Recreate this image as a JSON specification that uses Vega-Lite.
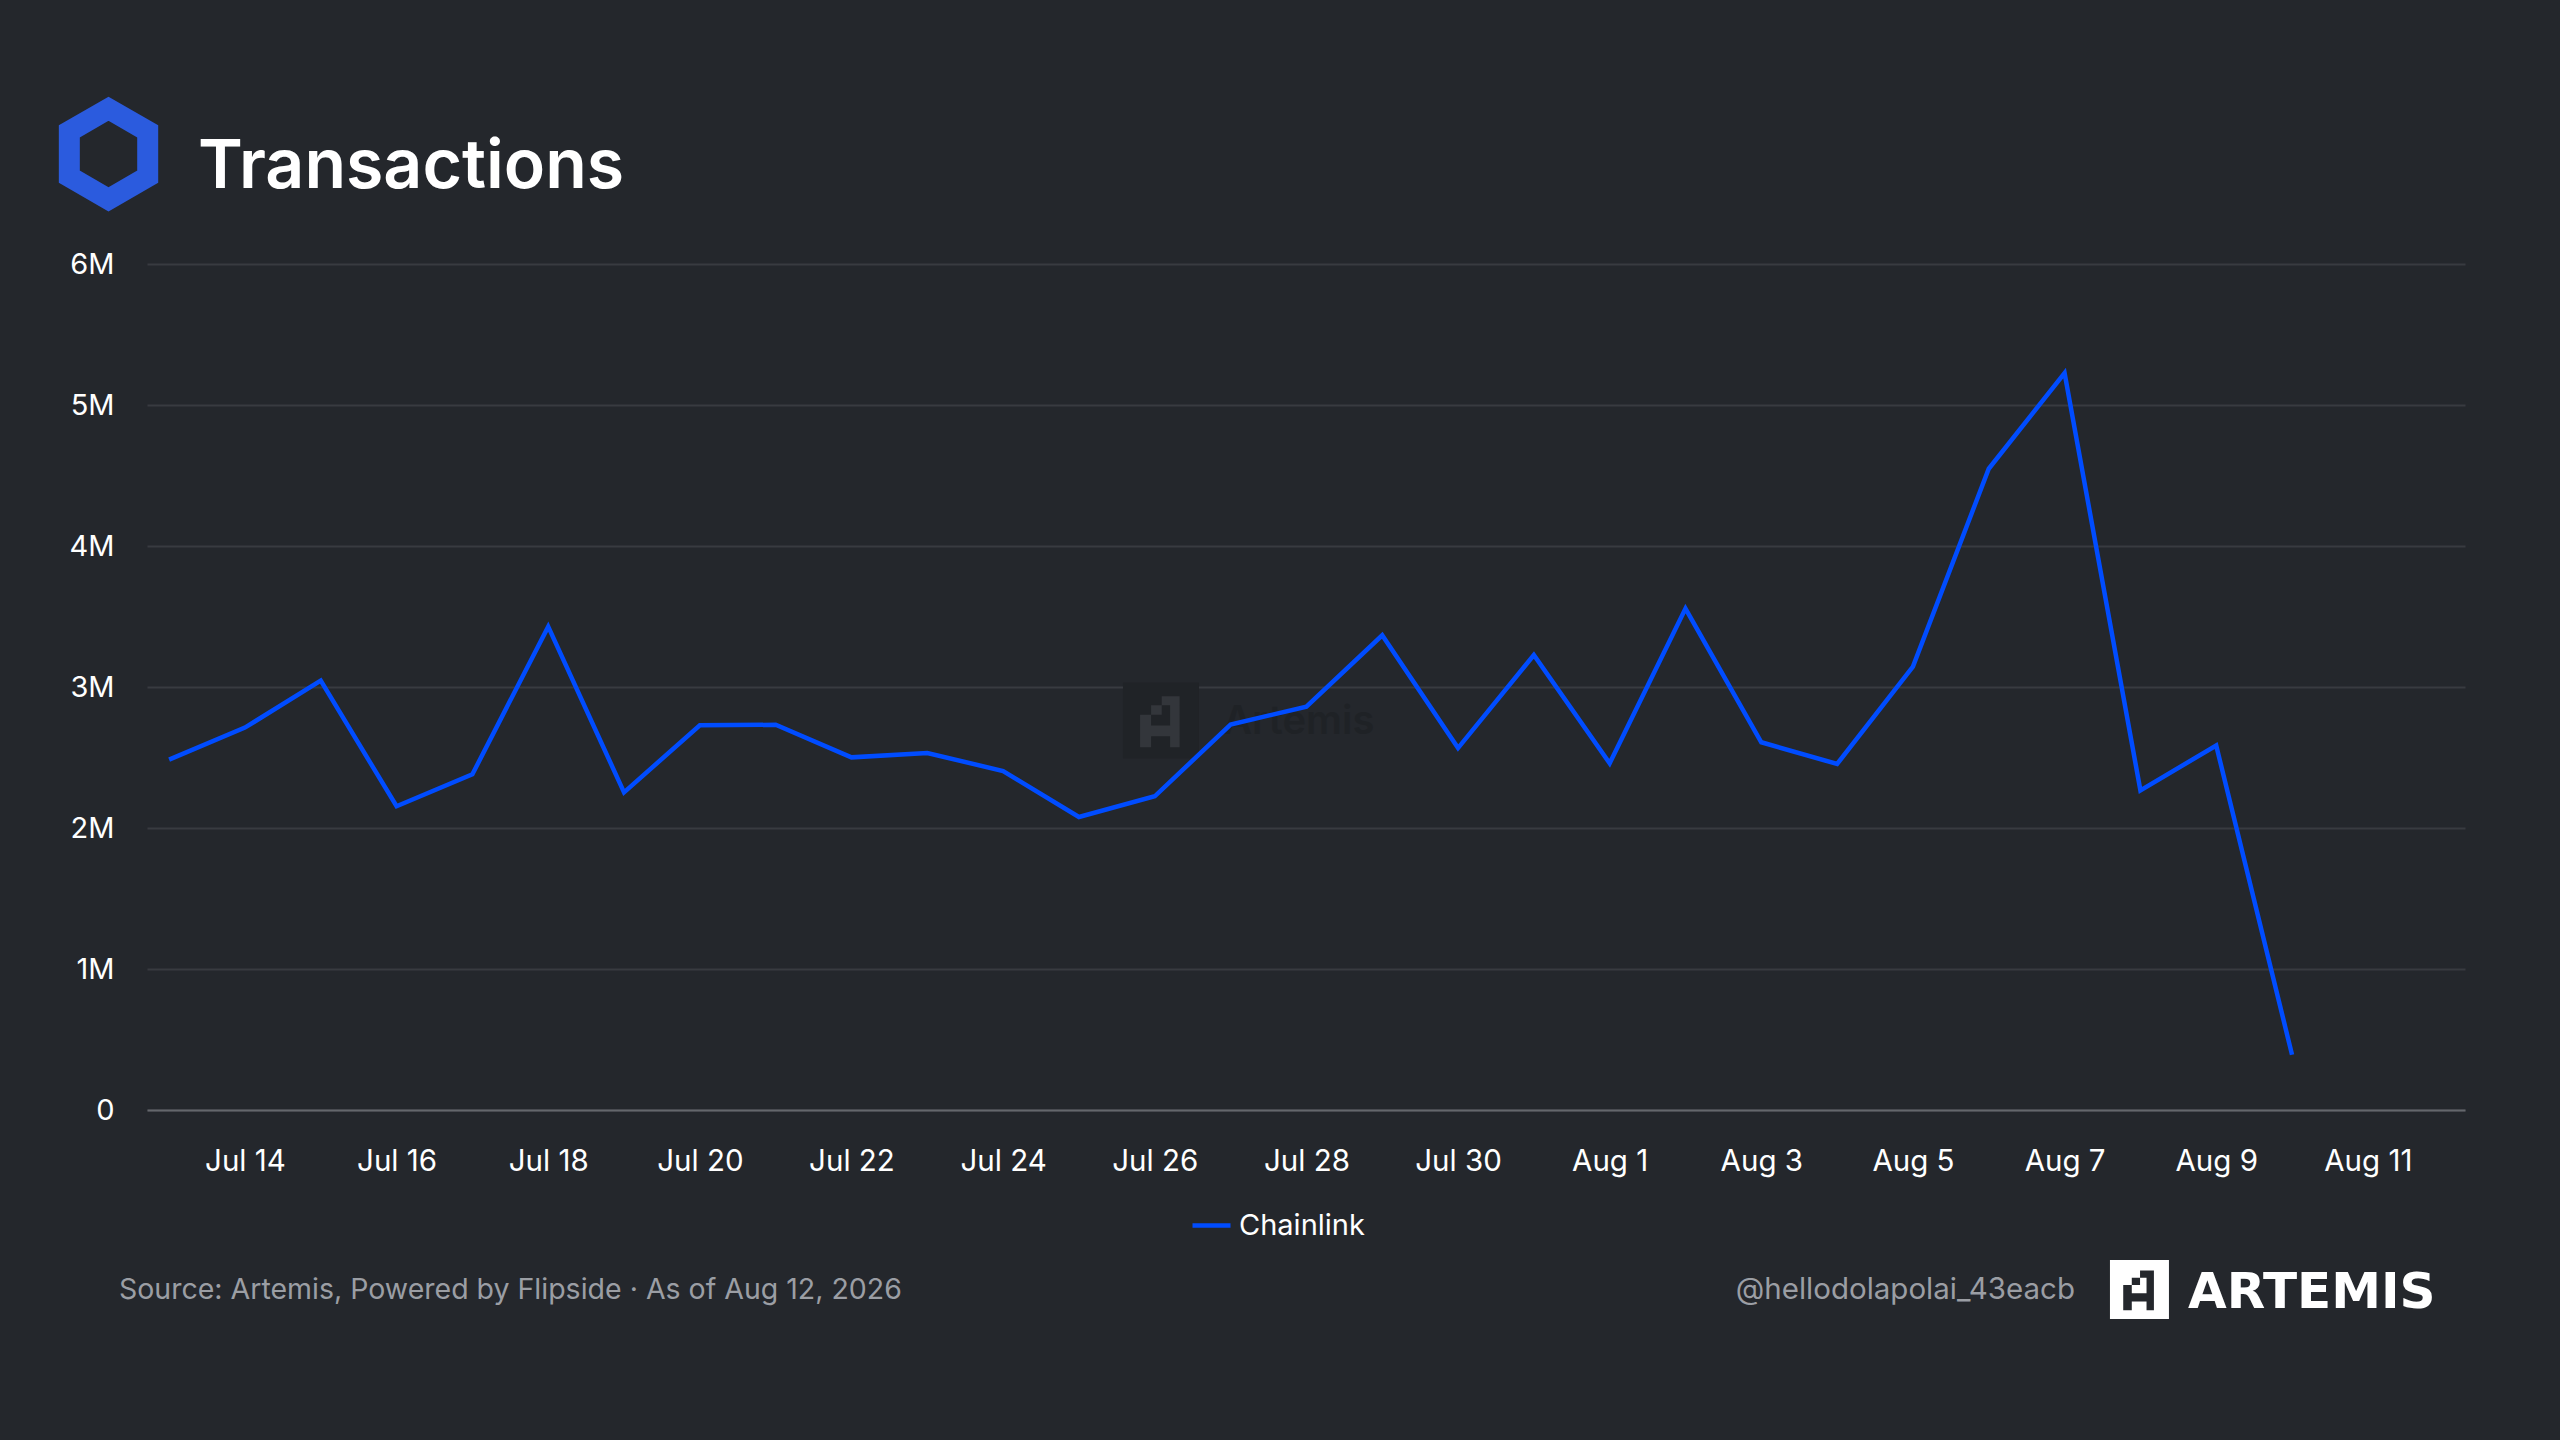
{
  "$schema": "https://vega.github.io/schema/vega-lite/v6.json",
  "autosize": "none",
  "width": 2318,
  "height": 846,
  "padding": {"left": 147, "top": 264, "right": 95, "bottom": 330},
  "background": "#24272c",
  "config": {
    "view": {"stroke": null},
    "font": "Inter"
  },
  "layer": [
    {
      "data": {"values": [{}]},
      "mark": {"type": "point", "shape": "square", "filled": true, "color": "#202327", "opacity": 1, "size": 5776},
      "encoding": {
        "x": {"datum": {"year": 2026, "month": 7, "date": 26, "hours": 1, "minutes": 58, "utc": true}, "type": "temporal"},
        "y": {"datum": 2762000, "type": "quantitative"}
      }
    },
    {
      "data": {"values": [{}]},
      "mark": {"type": "point", "shape": "M0.02,-0.64L0.49,-0.64L0.49,0.7L0.24,0.7L0.24,-0.4L0.02,-0.4ZM-0.26,-0.4L0.02,-0.4L0.02,-0.15L-0.26,-0.15ZM-0.55,-0.15L-0.26,-0.15L-0.26,0.7L-0.55,0.7ZM-0.55,0.13L0.49,0.13L0.49,0.41L-0.55,0.41Z", "filled": true, "color": "#33363b", "opacity": 1, "size": 5776},
      "encoding": {
        "x": {"datum": {"year": 2026, "month": 7, "date": 26, "hours": 1, "minutes": 58, "utc": true}, "type": "temporal"},
        "y": {"datum": 2762000, "type": "quantitative"}
      }
    },
    {
      "data": {"values": [{}]},
      "mark": {"type": "text", "align": "left", "baseline": "alphabetic", "font": "Inter", "fontSize": 40, "fontWeight": 600, "color": "#1f2226"},
      "encoding": {
        "x": {"datum": {"year": 2026, "month": 7, "date": 26, "hours": 21, "minutes": 36, "utc": true}, "type": "temporal"},
        "y": {"datum": 2667000, "type": "quantitative"},
        "text": {"value": "Artemis"}
      }
    },
    {
      "data": {
        "values": [
          {"date": "2026-07-13", "transactions": 2485000, "chain": "Chainlink"},
          {"date": "2026-07-14", "transactions": 2712000, "chain": "Chainlink"},
          {"date": "2026-07-15", "transactions": 3045000, "chain": "Chainlink"},
          {"date": "2026-07-16", "transactions": 2154000, "chain": "Chainlink"},
          {"date": "2026-07-17", "transactions": 2381000, "chain": "Chainlink"},
          {"date": "2026-07-18", "transactions": 3428000, "chain": "Chainlink"},
          {"date": "2026-07-19", "transactions": 2253000, "chain": "Chainlink"},
          {"date": "2026-07-20", "transactions": 2728000, "chain": "Chainlink"},
          {"date": "2026-07-21", "transactions": 2732000, "chain": "Chainlink"},
          {"date": "2026-07-22", "transactions": 2501000, "chain": "Chainlink"},
          {"date": "2026-07-23", "transactions": 2532000, "chain": "Chainlink"},
          {"date": "2026-07-24", "transactions": 2404000, "chain": "Chainlink"},
          {"date": "2026-07-25", "transactions": 2078000, "chain": "Chainlink"},
          {"date": "2026-07-26", "transactions": 2225000, "chain": "Chainlink"},
          {"date": "2026-07-27", "transactions": 2733000, "chain": "Chainlink"},
          {"date": "2026-07-28", "transactions": 2861000, "chain": "Chainlink"},
          {"date": "2026-07-29", "transactions": 3367000, "chain": "Chainlink"},
          {"date": "2026-07-30", "transactions": 2567000, "chain": "Chainlink"},
          {"date": "2026-07-31", "transactions": 3227000, "chain": "Chainlink"},
          {"date": "2026-08-01", "transactions": 2459000, "chain": "Chainlink"},
          {"date": "2026-08-02", "transactions": 3556000, "chain": "Chainlink"},
          {"date": "2026-08-03", "transactions": 2608000, "chain": "Chainlink"},
          {"date": "2026-08-04", "transactions": 2454000, "chain": "Chainlink"},
          {"date": "2026-08-05", "transactions": 3145000, "chain": "Chainlink"},
          {"date": "2026-08-06", "transactions": 4548000, "chain": "Chainlink"},
          {"date": "2026-08-07", "transactions": 5226000, "chain": "Chainlink"},
          {"date": "2026-08-08", "transactions": 2267000, "chain": "Chainlink"},
          {"date": "2026-08-09", "transactions": 2585000, "chain": "Chainlink"},
          {"date": "2026-08-10", "transactions": 392000, "chain": "Chainlink"}
        ]
      },
      "mark": {"type": "line", "strokeWidth": 4.5, "strokeJoin": "miter"},
      "encoding": {
        "x": {
          "field": "date",
          "type": "temporal",
          "scale": {
            "type": "utc",
            "nice": false,
            "domain": [
              {"year": 2026, "month": 7, "date": 12, "hours": 17, "utc": true},
              {"year": 2026, "month": 8, "date": 12, "hours": 6, "minutes": 45, "utc": true}
            ]
          },
          "axis": {
            "title": null,
            "format": "%b %-d",
            "values": [
              {"year": 2026, "month": 7, "date": 14, "utc": true},
              {"year": 2026, "month": 7, "date": 16, "utc": true},
              {"year": 2026, "month": 7, "date": 18, "utc": true},
              {"year": 2026, "month": 7, "date": 20, "utc": true},
              {"year": 2026, "month": 7, "date": 22, "utc": true},
              {"year": 2026, "month": 7, "date": 24, "utc": true},
              {"year": 2026, "month": 7, "date": 26, "utc": true},
              {"year": 2026, "month": 7, "date": 28, "utc": true},
              {"year": 2026, "month": 7, "date": 30, "utc": true},
              {"year": 2026, "month": 8, "date": 1, "utc": true},
              {"year": 2026, "month": 8, "date": 3, "utc": true},
              {"year": 2026, "month": 8, "date": 5, "utc": true},
              {"year": 2026, "month": 8, "date": 7, "utc": true},
              {"year": 2026, "month": 8, "date": 9, "utc": true},
              {"year": 2026, "month": 8, "date": 11, "utc": true}
            ],
            "grid": false,
            "ticks": false,
            "tickSize": 0,
            "domain": true,
            "domainColor": "#64676c",
            "domainWidth": 2,
            "labelFlush": false,
            "labelFont": "Inter",
            "labelFontSize": 29.5,
            "labelColor": "#ffffff",
            "labelPadding": 37
          }
        },
        "y": {
          "field": "transactions",
          "type": "quantitative",
          "scale": {"domain": [0, 6000000], "nice": false},
          "axis": {
            "title": null,
            "values": [0, 1000000, 2000000, 3000000, 4000000, 5000000, 6000000],
            "labelExpr": "datum.value === 0 ? '0' : format(datum.value, '~s')",
            "grid": true,
            "gridColor": "#383b40",
            "gridWidth": 2,
            "domain": false,
            "ticks": false,
            "tickSize": 0,
            "labelFont": "Inter",
            "labelFontSize": 29,
            "labelColor": "#ffffff",
            "labelPadding": 33
          }
        },
        "color": {
          "field": "chain",
          "type": "nominal",
          "scale": {"domain": ["Chainlink"], "range": ["#004cff"]},
          "legend": {
            "title": null,
            "orient": "none",
            "legendX": 1043,
            "legendY": 940,
            "direction": "horizontal",
            "padding": 0,
            "symbolType": "stroke",
            "symbolSize": 1444,
            "symbolStrokeWidth": 4.5,
            "labelFont": "Inter",
            "labelFontSize": 29,
            "labelColor": "#ffffff",
            "labelOffset": 6
          }
        }
      }
    },
    {
      "data": {"values": [{}]},
      "mark": {"type": "point", "shape": "M0,-1L0.866,-0.5L0.866,0.5L0,1L-0.866,0.5L-0.866,-0.5Z", "filled": false, "stroke": "#2b5bde", "strokeWidth": 21, "strokeJoin": "miter", "opacity": 1, "size": 8190},
      "encoding": {
        "x": {"datum": {"year": 2026, "month": 7, "date": 12, "hours": 4, "minutes": 49, "utc": true}, "type": "temporal"},
        "y": {"datum": 6780000, "type": "quantitative"}
      }
    },
    {
      "data": {"values": [{}]},
      "mark": {"type": "text", "align": "left", "baseline": "alphabetic", "font": "Inter", "fontSize": 68, "fontWeight": 600, "color": "#ffffff"},
      "encoding": {
        "x": {"datum": {"year": 2026, "month": 7, "date": 13, "hours": 9, "minutes": 8, "utc": true}, "type": "temporal"},
        "y": {"datum": 6539000, "type": "quantitative"},
        "text": {"value": "Transactions"}
      }
    },
    {
      "data": {"values": [{}]},
      "mark": {"type": "text", "align": "left", "baseline": "middle", "font": "Inter", "fontSize": 28.5, "color": "#9b9ea4"},
      "encoding": {
        "x": {"datum": {"year": 2026, "month": 7, "date": 12, "hours": 8, "minutes": 8, "utc": true}, "type": "temporal"},
        "y": {"datum": -1277000, "type": "quantitative"},
        "text": {"value": "Source: Artemis, Powered by Flipside · As of Aug 12, 2026"}
      }
    },
    {
      "data": {"values": [{}]},
      "mark": {"type": "text", "align": "right", "baseline": "middle", "font": "Inter", "fontSize": 29.5, "color": "#9b9ea4"},
      "encoding": {
        "x": {"datum": {"year": 2026, "month": 8, "date": 7, "hours": 3, "minutes": 18, "utc": true}, "type": "temporal"},
        "y": {"datum": -1277000, "type": "quantitative"},
        "text": {"value": "@hellodolapolai_43eacb"}
      }
    },
    {
      "data": {"values": [{}]},
      "mark": {"type": "point", "shape": "square", "filled": true, "color": "#ffffff", "opacity": 1, "size": 3481},
      "encoding": {
        "x": {"datum": {"year": 2026, "month": 8, "date": 7, "hours": 23, "minutes": 42, "utc": true}, "type": "temporal"},
        "y": {"datum": -1273000, "type": "quantitative"}
      }
    },
    {
      "data": {"values": [{}]},
      "mark": {"type": "point", "shape": "M0.02,-0.64L0.49,-0.64L0.49,0.7L0.24,0.7L0.24,-0.4L0.02,-0.4ZM-0.26,-0.4L0.02,-0.4L0.02,-0.15L-0.26,-0.15ZM-0.55,-0.15L-0.26,-0.15L-0.26,0.7L-0.55,0.7ZM-0.55,0.13L0.49,0.13L0.49,0.41L-0.55,0.41Z", "filled": true, "color": "#24272c", "opacity": 1, "size": 3481},
      "encoding": {
        "x": {"datum": {"year": 2026, "month": 8, "date": 7, "hours": 23, "minutes": 42, "utc": true}, "type": "temporal"},
        "y": {"datum": -1273000, "type": "quantitative"}
      }
    },
    {
      "data": {"values": [{}]},
      "mark": {"type": "text", "align": "left", "baseline": "alphabetic", "font": "DejaVu Sans", "fontSize": 50, "fontWeight": "bold", "color": "#ffffff"},
      "encoding": {
        "x": {"datum": {"year": 2026, "month": 8, "date": 8, "hours": 15, "minutes": 4, "utc": true}, "type": "temporal"},
        "y": {"datum": -1404000, "type": "quantitative"},
        "text": {"value": "ARTEMIS"}
      }
    }
  ]
}
